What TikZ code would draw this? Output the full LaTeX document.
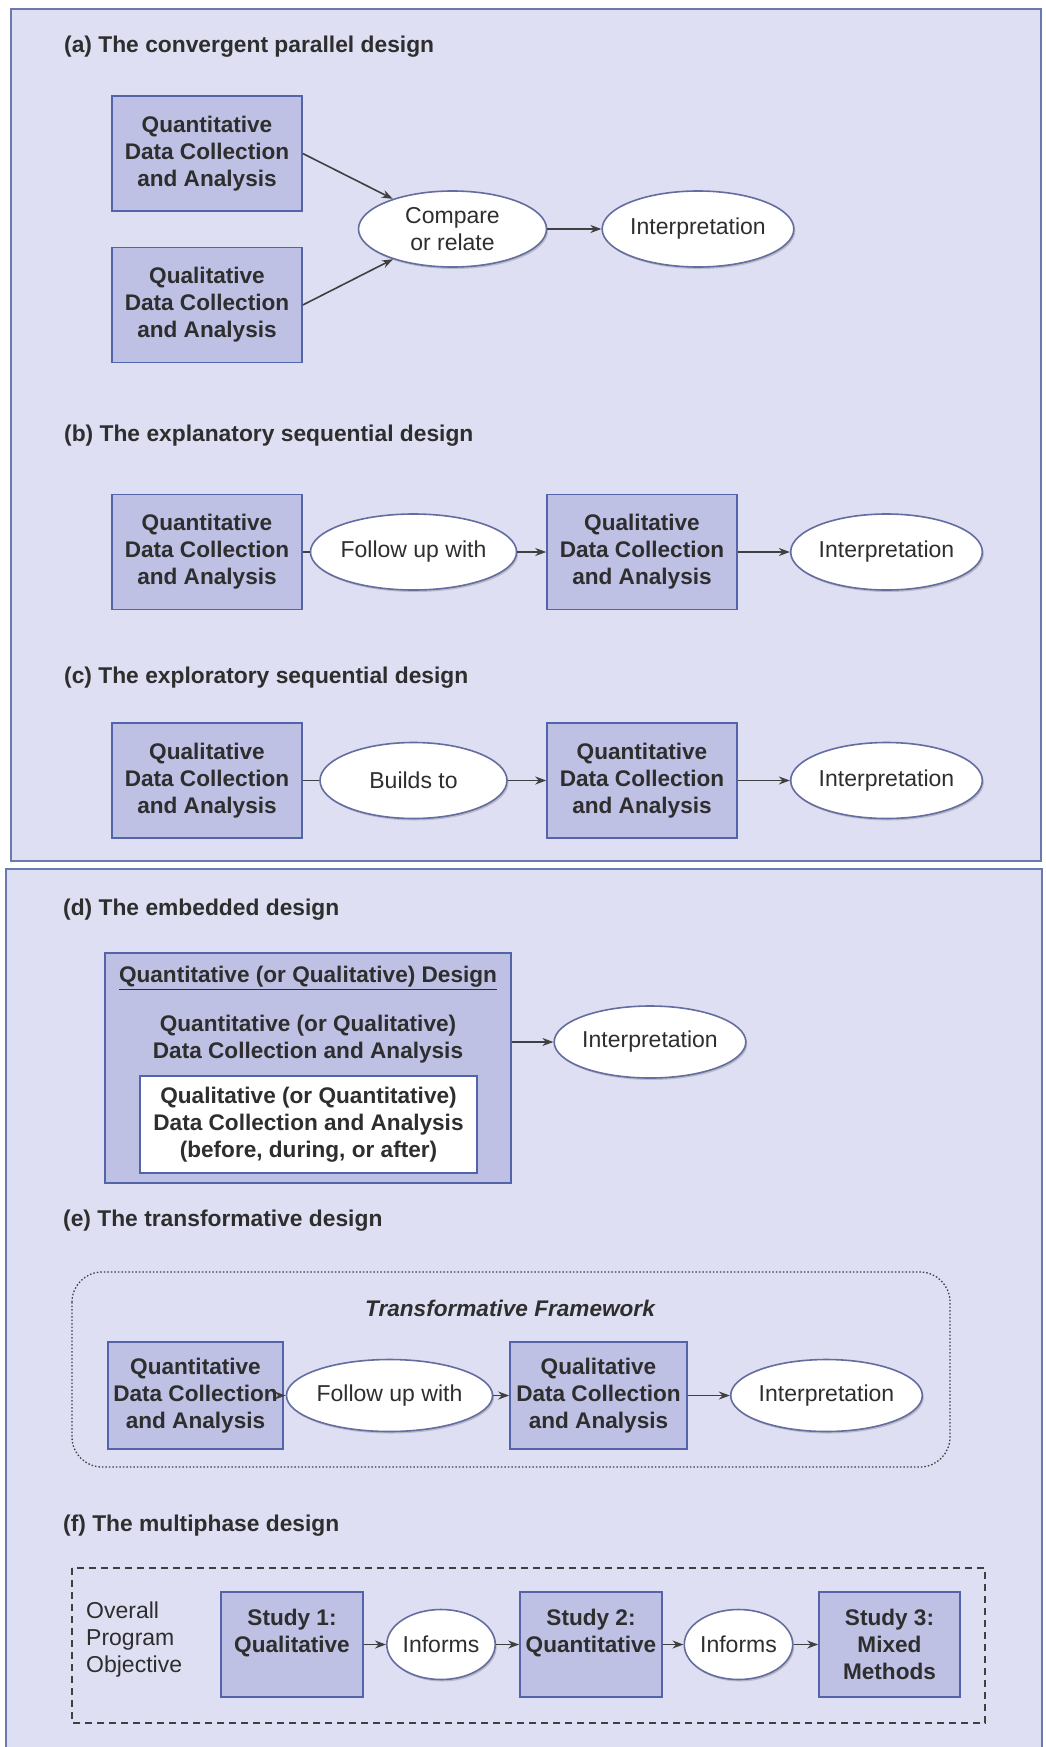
\documentclass[tikz,border=0pt]{standalone}
\usepackage{fontspec}
\setmainfont{Liberation Sans}
\usetikzlibrary{arrows.meta,shapes.geometric,shadows}

\definecolor{panelbg}{HTML}{DEDFF2}
\definecolor{panelline}{HTML}{6B7AAE}
\definecolor{boxfill}{HTML}{BEC0E4}
\definecolor{boxline}{HTML}{5464AA}
\definecolor{ellline}{HTML}{646DA0}
\definecolor{ink}{HTML}{2E2E2E}
\definecolor{wire}{HTML}{404040}

\begin{document}
\begin{tikzpicture}[x=1pt,y=-1pt,
  font=\fontsize{23}{27}\selectfont, text=ink,
  panel/.style={draw=panelline, line width=2pt, fill=panelbg},
  databox/.style={rectangle, draw=boxline, line width=1.6pt, fill=boxfill,
    minimum width=190pt, minimum height=115pt, inner sep=0pt, align=center,
    font=\fontsize{22.6}{27}\selectfont\bfseries},
  oval/.style={ellipse, draw=ellline, line width=1.6pt, fill=white,
    minimum width=188pt, minimum height=76pt, inner sep=0pt, align=center,
    drop shadow={shadow xshift=1.5pt, shadow yshift=-2pt, opacity=0.3, fill=black!60}},
  arr/.style={draw=wire, line width=1.6pt, -{Stealth[length=11pt,width=8pt]}},
  link/.style={draw=wire, line width=1.6pt},
  heading/.style={anchor=base west, inner sep=0pt,
    font=\fontsize{22.8}{27}\selectfont\bfseries},
]
\clip (0,0) rectangle (1045,1747);
\fill[white] (0,0) rectangle (1045,1747);

% two panels
\draw[panel] (11,9) rectangle (1041,861);
\draw[panel] (6,869) rectangle (1042,1765);

% (a) convergent parallel
\node[heading] (ta) at (64,53) {(a) The convergent parallel design};
\node[databox] (a1) at (207,153.5) {Quantitative\\Data Collection\\and Analysis};
\node[databox] (a2) at (207,305) {Qualitative\\Data Collection\\and Analysis};
\node[oval] (a3) at (452.5,229) {Compare\\or relate};
\node[oval] (a4) at (698,229) {Interpretation};
\draw[arr] (a1.east) -- (a3);
\draw[arr] (a2.east) -- (a3);
\draw[arr] (a3) -- (a4);

% (b) explanatory sequential
\node[heading] (tb) at (64,441) {(b) The explanatory sequential design};
\node[databox] (b1) at (207,552) {Quantitative\\Data Collection\\and Analysis};
\node[oval, minimum width=187pt] (b2) at (413.5,552) {Follow up with};
\node[databox] (b3) at (642,552) {Qualitative\\Data Collection\\and Analysis};
\node[oval, minimum width=187pt] (b4) at (886.5,552) {Interpretation};
\draw[link] (b1) -- (b2);
\draw[arr] (b2) -- (b3);
\draw[arr] (b3) -- (b4);

% (c) exploratory sequential
\node[heading] (tc) at (64,683) {(c) The exploratory sequential design};
\node[databox] (c1) at (207,780.5) {Qualitative\\Data Collection\\and Analysis};
\node[oval, minimum width=187pt] (c2) at (413.5,780.5) {Builds to};
\node[databox] (c3) at (642,780.5) {Quantitative\\Data Collection\\and Analysis};
\node[oval, minimum width=187pt] (c4) at (886.5,780.5) {Interpretation};
\draw[link] (c1) -- (c2);
\draw[arr] (c2) -- (c3);
\draw[arr] (c3) -- (c4);

% (d) embedded
\node[heading] (td) at (63,915) {(d) The embedded design};
\node[databox, minimum width=406pt, minimum height=230pt] (d1) at (308,1068) {};
\node[font=\fontsize{22.6}{27}\selectfont\bfseries, inner sep=0pt] (d1h) at (308,978)
  {\underline{Quantitative (or Qualitative) Design}};
\node[font=\fontsize{22.6}{27}\selectfont\bfseries, align=center, inner sep=0pt] (d1t) at (308,1039)
  {Quantitative (or Qualitative)\\Data Collection and Analysis};
\node[databox, fill=white, minimum width=337pt, minimum height=97pt] (d2) at (308.5,1124.5)
  {Qualitative (or Quantitative)\\Data Collection and Analysis\\(before, during, or after)};
\node[oval, minimum width=175pt, minimum height=72pt] (d3) at (650,1042) {Interpretation};
\draw[arr] (d1.east |- d3.west) -- (d3.west);

% (e) transformative
\node[heading] (te) at (63,1226) {(e) The transformative design};
\draw[draw=wire, line width=1.3pt, dash pattern=on 1.5pt off 2pt, rounded corners=30pt]
  (72,1272) rectangle (950,1467);
\node[font=\fontsize{22.6}{27}\selectfont\bfseries\itshape] (tf) at (510,1308) {Transformative Framework};
\node[databox, minimum width=175pt, minimum height=107pt] (e1) at (195.5,1395.5) {Quantitative\\Data Collection\\and Analysis};
\node[oval, minimum width=175pt, minimum height=72pt] (e2) at (389.5,1395.5) {Follow up with};
\node[databox, minimum width=177pt, minimum height=107pt] (e3) at (598.5,1395.5) {Qualitative\\Data Collection\\and Analysis};
\node[oval, minimum width=173pt, minimum height=72pt] (e4) at (826.5,1395.5) {Interpretation};
\draw[arr] (e1) -- (e2);
\draw[arr] (e2) -- (e3);
\draw[arr] (e3) -- (e4);

% (f) multiphase
\node[heading] (tg) at (63,1531) {(f) The multiphase design};
\draw[draw=wire, line width=1.5pt, dash pattern=on 7pt off 5pt] (72,1568) rectangle (985,1723);
\node[anchor=west, align=left, inner sep=0pt] (obj) at (86,1640) {Overall\\Program\\Objective};
\node[databox, minimum width=142pt, minimum height=105pt] (f1) at (292,1644.5) {Study 1:\\Qualitative\\\mbox{}};
\node[oval, minimum width=104pt, minimum height=70pt] (f2) at (441,1644.5) {Informs};
\node[databox, minimum width=142pt, minimum height=105pt] (f3) at (591,1644.5) {Study 2:\\Quantitative\\\mbox{}};
\node[oval, minimum width=104pt, minimum height=70pt] (f4) at (738.5,1644.5) {Informs};
\node[databox, minimum width=141pt, minimum height=105pt] (f5) at (889.5,1644.5) {Study 3:\\Mixed\\Methods};
\draw[arr] (f1) -- (f2);
\draw[arr] (f2) -- (f3);
\draw[arr] (f3) -- (f4);
\draw[arr] (f4) -- (f5);
\end{tikzpicture}
\end{document}
